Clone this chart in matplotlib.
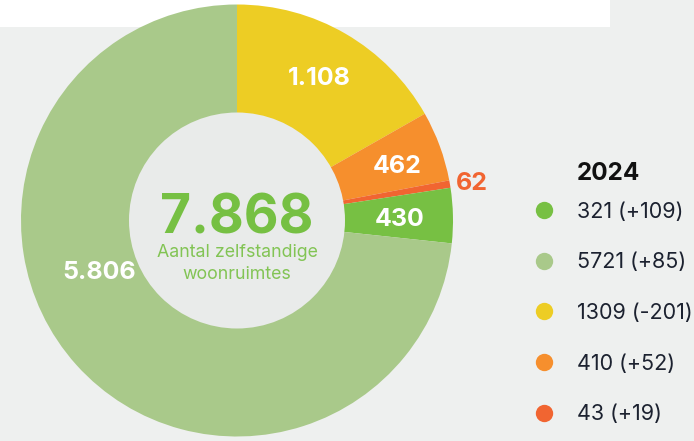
import matplotlib
matplotlib.use("Agg")
import matplotlib.pyplot as plt
from matplotlib.patches import Rectangle, Circle
from matplotlib.lines import Line2D
import numpy as np

plt.rcParams['font.family'] = ['Inter', 'DejaVu Sans']

# Data (clockwise from 12 o'clock)
categories = ["cat_yellow", "cat_orange", "cat_red", "cat_green", "cat_lightgreen"]
wedge_values_2024 = [1309, 410, 43, 321, 5721]        # wedge sizes (2024 legend values)
label_values = ["1.108", "462", "62", "430", "5.806"]  # labels shown in the wedges
total_label = "7.868"
colors = ["#edcd24", "#f68f2d", "#f16531", "#77c043", "#a9c98a"]

legend_order = [3, 4, 0, 1, 2]
legend_labels = ["321 (+109)", "5721 (+85)", "1309 (-201)", "410 (+52)", "43 (+19)"]
legend_title = "2024"

W, H = 694, 441
fig = plt.figure(figsize=(W / 100, H / 100), dpi=100, facecolor="#eef0ef")
fig.patches.append(Rectangle((0, 1 - 27 / H), 610 / W, 27 / H, transform=fig.transFigure,
                             facecolor="white", edgecolor="none", zorder=-5))

cx, cy, R = 237, 220.5, 216
ax = fig.add_axes([(cx - R) / W, (H - cy - R) / H, 2 * R / W, 2 * R / H])
ax.set_zorder(2)
ax.patch.set_alpha(0)
wedges, _ = ax.pie(wedge_values_2024, colors=colors, startangle=90, counterclock=False,
                   radius=1, wedgeprops=dict(linewidth=0))
ax.add_patch(Circle((0, 0), 0.5, facecolor="#e9ebea", edgecolor="none", zorder=3))
ax.set_xlim(-1, 1)
ax.set_ylim(-1, 1)
ax.set_aspect("equal")
ax.axis("off")

# label positions
label_r = [0.76, 0.78, 1.10, 0.755, 0.68]
label_angle_override = [None, -1.6, -0.7, -0.8, -159.4]
for i, w in enumerate(wedges):
    mid = (w.theta1 + w.theta2) / 2
    ang = mid
    if label_angle_override[i] is not None:
        if i == 4:
            ang = label_angle_override[i]
        else:
            ang = mid + label_angle_override[i]
    x = label_r[i] * np.cos(np.radians(ang))
    y = label_r[i] * np.sin(np.radians(ang))
    col = "white" if i != 2 else colors[2]
    ax.text(x, y, label_values[i], ha="center", va="center", fontsize=18,
            fontweight="bold", color=col, zorder=5)

ax.text(0, -0.062, total_label, ha="center", va="baseline", fontsize=38.5,
        fontweight="bold", color="#76c043", zorder=5)
ax.text(0, -0.168, "Aantal zelfstandige", ha="center", va="baseline", fontsize=12.8,
        color="#82c454", zorder=5)
ax.text(0, -0.272, "woonruimtes", ha="center", va="baseline", fontsize=12.8,
        color="#82c454", zorder=5)

# Legend
handles = [Line2D([], [], marker="o", ls="", markersize=12.5, markeredgewidth=0,
                  color=colors[j]) for j in legend_order]
fs = 15.5
fs_px = fs * 100 / 72
leg = fig.legend(handles, legend_labels, loc="center left",
                 bbox_to_anchor=((544 - fs_px / 2) / W, (H - 313) / H),
                 frameon=False, fontsize=fs, handlelength=1.0,
                 handletextpad=(577 - 544 - fs_px / 2) / fs_px,
                 labelspacing=1.42, borderpad=0, borderaxespad=0, labelcolor="#1c2230")
fig.text(577 / W, (H - 173) / H, legend_title, ha="left", va="center", fontsize=17.5,
         fontweight="bold", color="#111111")

fig.savefig("out.png", dpi=100, facecolor=fig.get_facecolor())
